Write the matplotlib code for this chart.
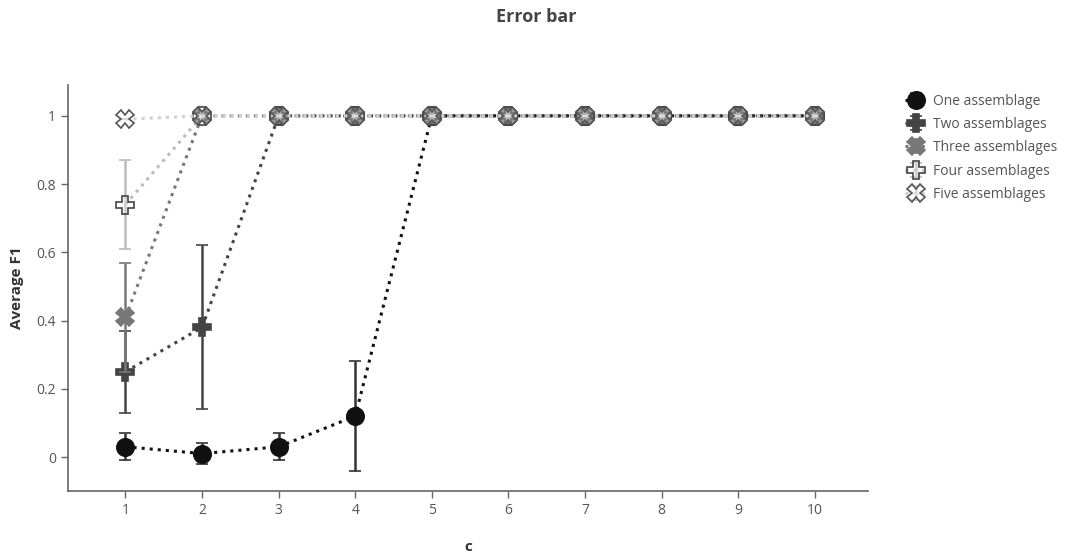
import numpy as np
import matplotlib.pyplot as plt

plt.rcParams['font.family'] = ['Open Sans', 'DejaVu Sans']

c = [1, 2, 3, 4, 5, 6, 7, 8, 9, 10]

labels = ['One assemblage', 'Two assemblages', 'Three assemblages',
          'Four assemblages', 'Five assemblages']

one_f1 = [0.03, 0.01, 0.03, 0.12, 1, 1, 1, 1, 1, 1]
one_err = [0.04, 0.03, 0.04, 0.16, 0, 0, 0, 0, 0, 0]
two_f1 = [0.25, 0.38, 1, 1, 1, 1, 1, 1, 1, 1]
two_err = [0.12, 0.24, 0, 0, 0, 0, 0, 0, 0, 0]
three_f1 = [0.41, 1, 1, 1, 1, 1, 1, 1, 1, 1]
three_err = [0.16, 0, 0, 0, 0, 0, 0, 0, 0, 0]
four_f1 = [0.74, 1, 1, 1, 1, 1, 1, 1, 1, 1]
four_err = [0.13, 0, 0, 0, 0, 0, 0, 0, 0, 0]
five_f1 = [0.99, 1, 1, 1, 1, 1, 1, 1, 1, 1]
five_err = [0, 0, 0, 0, 0, 0, 0, 0, 0, 0]

series = [one_f1, two_f1, three_f1, four_f1, five_f1]
errors = [one_err, two_err, three_err, four_err, five_err]

# style per series: line colour, marker, face colour, edge colour
styles = [
    ('#111111', 'o', '#111111', '#111111'),
    ('#444444', 'P', '#444444', '#444444'),
    ('#777777', 'X', '#777777', '#777777'),
    ('#bbbbbb', 'P', (1, 1, 1, 0.25), '#444444'),
    ('#d0d0d0', 'X', (1, 1, 1, 0.25), '#555555'),
]

fig = plt.figure(figsize=(10.73, 5.6), dpi=100)
ax = fig.add_axes([0.0634, 0.123, 0.746, 0.725])

# later traces drawn on top, like the original
for i in range(5):
    lc, mk, fc, ec = styles[i]
    ax.errorbar(c, series[i], yerr=errors[i], color=lc, ecolor=lc if i > 0 else '#333333',
                elinewidth=1.8, capsize=4, capthick=1.8,
                linestyle=':', linewidth=2.2, marker=mk, markersize=12.5,
                markerfacecolor=fc, markeredgecolor=ec, markeredgewidth=1.2,
                label=labels[i], zorder=3 + i)

ax.set_xlim(0.25, 10.7)
ax.set_ylim(-0.1, 1.09)
ax.set_xticks(c)
ax.set_yticks([0, 0.2, 0.4, 0.6, 0.8, 1])
ax.set_yticklabels(['0', '0.2', '0.4', '0.6', '0.8', '1'])
for s in ['top', 'right']:
    ax.spines[s].set_visible(False)
for s in ['left', 'bottom']:
    ax.spines[s].set_color('#666666')
    ax.spines[s].set_linewidth(1.2)
ax.tick_params(colors='#666666', labelcolor='#555555', labelsize=10, length=5, width=1)

ax.set_xlabel('c', fontsize=11, fontweight='bold', color='#333333', labelpad=16)
ax.set_ylabel('Average F1', fontsize=11, fontweight='bold', color='#333333', labelpad=9)
fig.suptitle('Error bar', x=0.5, y=0.985, fontsize=13, fontweight='bold', color='#444444')

handles, lbls = ax.get_legend_handles_labels()
leg = ax.legend(handles, lbls, loc='upper left', bbox_to_anchor=(1.03, 1.01),
                frameon=False, fontsize=10, handlelength=1.6, labelspacing=0.6,
                handletextpad=0.4)
for t in leg.get_texts():
    t.set_color('#555555')

fig.savefig('out.png', dpi=100)
